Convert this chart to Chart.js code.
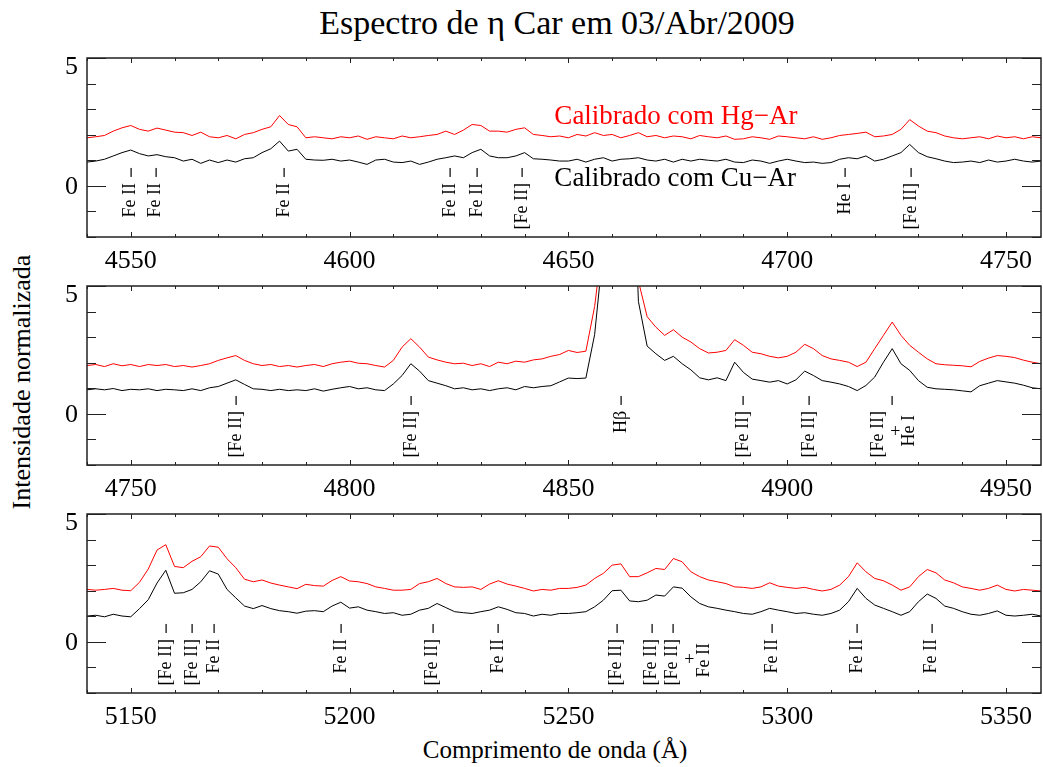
<!DOCTYPE html>
<html>
<head>
<meta charset="utf-8">
<title>Espectro de eta Car</title>
<script src="https://cdn.jsdelivr.net/npm/chart.js@4.4.0/dist/chart.umd.min.js"></script>
<style>
  body { margin: 0; background: #fff; width: 1043px; height: 767px; position: relative; overflow: hidden; font-family: "Liberation Serif", "Times New Roman", serif; }
  canvas { position: absolute; left: 0; }
  .txt { position: absolute; white-space: nowrap; color: #000; line-height: 1; }
</style>
</head>
<body>
<div class="txt" style="left:557px; top:23px; font-size:34px; transform:translate(-50%,-50%);">Espectro de η Car em 03/Abr/2009</div>
<div class="txt" style="left:22px; top:382px; font-size:26px; transform:translate(-50%,-50%) rotate(-90deg);">Intensidade normalizada</div>
<div class="txt" style="left:555px; top:749px; font-size:25px; transform:translate(-50%,-50%);">Comprimento de onda (Å)</div>
<canvas id="p1" width="1043" height="244" style="top:38px"></canvas>
<canvas id="p2" width="1043" height="244" style="top:266px"></canvas>
<canvas id="p3" width="1043" height="244" style="top:494px"></canvas>
<script>
'use strict';

const step = 2;

// panel 1: 4540 - 4758 A
const start1 = 4540, end1 = 4758;
const hgAr1 = [1.88, 1.92, 1.97, 2.14, 2.27, 2.36, 2.21, 2.14, 2.26, 2.18,
    2.10, 2.08, 1.97, 2.10, 1.92, 1.88, 1.97, 1.84, 2.01, 2.08,
    2.21, 2.31, 2.75, 2.40, 2.31, 1.88, 1.92, 1.88, 1.84, 1.92,
    1.88, 1.95, 1.82, 1.92, 1.88, 1.84, 1.95, 1.88, 1.92, 1.97,
    2.01, 2.14, 2.01, 2.18, 2.40, 2.36, 2.14, 2.14, 2.10, 2.21,
    2.27, 2.01, 1.97, 1.92, 1.95, 1.88, 2.01, 1.95, 2.08, 1.97,
    2.01, 1.88, 1.97, 2.08, 1.92, 1.97, 1.88, 1.95, 1.92, 1.84,
    1.97, 1.92, 1.88, 1.95, 1.82, 1.84, 1.92, 1.88, 1.82, 1.95,
    1.92, 1.88, 1.84, 1.92, 1.82, 1.88, 1.97, 2.01, 2.05, 2.10,
    1.92, 1.95, 2.01, 2.21, 2.59, 2.34, 2.14, 2.08, 1.95, 1.88,
    1.84, 1.88, 1.92, 1.84, 1.95, 1.88, 1.92, 1.84, 1.92, 1.88];
const cuAr1 = [0.93, 0.97, 1.04, 1.17, 1.30, 1.40, 1.26, 1.17, 1.22, 1.14,
    1.10, 0.97, 1.04, 0.88, 1.01, 0.91, 1.01, 0.93, 1.06, 1.10,
    1.30, 1.45, 1.75, 1.36, 1.43, 1.04, 1.01, 1.00, 1.04, 0.97,
    1.01, 0.93, 0.84, 1.01, 1.04, 0.93, 0.91, 0.97, 0.84, 0.93,
    1.04, 1.10, 1.17, 1.10, 1.30, 1.43, 1.17, 1.10, 1.10, 1.17,
    1.30, 1.06, 1.04, 1.01, 0.97, 0.97, 1.04, 0.93, 1.04, 1.10,
    0.97, 1.04, 1.06, 1.10, 1.01, 0.97, 1.04, 0.93, 1.04, 0.97,
    1.04, 1.00, 0.97, 1.04, 0.93, 0.91, 1.01, 0.97, 0.88, 0.97,
    1.04, 0.97, 0.91, 0.93, 0.88, 0.91, 1.04, 1.10, 1.06, 1.17,
    0.97, 1.04, 1.17, 1.30, 1.62, 1.30, 1.14, 1.06, 0.97, 0.91,
    0.93, 0.97, 0.91, 1.01, 0.93, 0.97, 1.04, 0.97, 0.93, 0.97];
const lines1 = [4550, 4555.7, 4585, 4623, 4629.1, 4639.4, 4713.3, 4728.4];
const names1 = ['Fe II', 'Fe II', 'Fe II', 'Fe II', 'Fe II', '[Fe II]', 'He I', '[Fe II]'];

// panel 2: 4740 - 4958 A (H beta goes off scale)
const start2 = 4740, end2 = 4958;
const hgAr2 = [1.89, 1.93, 1.85, 1.96, 1.88, 1.93, 1.85, 1.93, 1.89, 1.93,
    1.85, 1.89, 1.83, 1.89, 1.96, 2.09, 2.19, 2.28, 2.09, 1.96,
    1.89, 1.93, 1.85, 1.89, 1.83, 1.89, 1.93, 1.85, 1.96, 2.02,
    2.06, 1.98, 1.96, 1.89, 1.83, 2.09, 2.61, 2.94, 2.61, 2.22,
    2.11, 2.02, 1.96, 1.98, 1.89, 1.96, 1.85, 2.02, 1.96, 2.06,
    2.02, 2.11, 2.15, 2.25, 2.32, 2.48, 2.40, 2.45, 4.2, 7.0,
    15.0, 20.0, 15.0, 5.2, 3.8, 3.39, 3.07, 3.29, 3.00, 2.81,
    2.55, 2.38, 2.41, 2.48, 2.90, 2.68, 2.41, 2.35, 2.25, 2.19,
    2.25, 2.41, 2.72, 2.55, 2.28, 2.15, 2.09, 2.02, 1.85, 2.02,
    2.55, 3.07, 3.59, 3.07, 2.68, 2.41, 2.15, 1.96, 1.92, 1.90,
    1.88, 1.84, 2.05, 2.18, 2.28, 2.25, 2.20, 2.10, 2.02, 1.96];
const cuAr2 = [0.94, 0.98, 0.94, 0.99, 0.91, 0.96, 0.94, 0.98, 0.91, 0.96,
    0.94, 0.91, 0.98, 0.91, 1.02, 1.07, 1.20, 1.33, 1.15, 0.98,
    0.96, 0.91, 0.96, 0.91, 0.94, 0.91, 0.98, 0.89, 0.96, 1.02,
    1.07, 0.98, 1.02, 0.94, 0.91, 1.17, 1.50, 1.96, 1.67, 1.30,
    1.20, 1.10, 0.98, 1.02, 0.94, 0.98, 0.91, 0.98, 1.02, 0.94,
    1.07, 1.02, 1.07, 1.10, 1.25, 1.40, 1.38, 1.40, 3.1, 6.5,
    14.0, 19.0, 14.0, 4.4, 2.65, 2.35, 2.09, 2.25, 1.96, 1.72,
    1.41, 1.33, 1.41, 1.30, 2.02, 1.62, 1.36, 1.30, 1.24, 1.30,
    1.17, 1.33, 1.67, 1.50, 1.30, 1.24, 1.17, 1.07, 0.91, 1.11,
    1.44, 2.02, 2.55, 1.96, 1.70, 1.30, 1.04, 0.98, 0.96, 0.94,
    0.90, 0.86, 1.10, 1.20, 1.30, 1.25, 1.20, 1.12, 1.02, 0.98];
const lines2 = [4774, 4814, 4862, 4890, 4905, 4924];
const names2 = ['[Fe II]', '[Fe II]', 'Hβ', '[Fe II]', '[Fe II]', '[Fe II]+He I'];

// panel 3: 5140 - 5358 A
const start3 = 5140, end3 = 5358;
const hgAr3 = [2.05, 2.02, 2.05, 2.09, 2.02, 2.00, 2.33, 2.85, 3.59, 3.80,
    2.95, 2.90, 3.15, 3.33, 3.75, 3.70, 3.25, 2.90, 2.45, 2.35,
    2.42, 2.30, 2.22, 2.15, 2.08, 2.25, 2.20, 2.18, 2.40, 2.55,
    2.38, 2.35, 2.28, 2.15, 2.09, 2.02, 2.02, 2.05, 2.28, 2.35,
    2.48, 2.28, 2.15, 2.13, 2.15, 2.05, 2.26, 2.39, 2.26, 2.18,
    2.09, 1.99, 2.05, 2.02, 2.09, 2.09, 2.13, 2.22, 2.48, 2.68,
    3.00, 3.05, 2.55, 2.55, 2.70, 2.87, 2.83, 3.26, 3.13, 2.74,
    2.55, 2.42, 2.35, 2.28, 2.15, 2.13, 2.09, 2.15, 2.31, 2.18,
    2.13, 2.09, 2.13, 2.05, 1.99, 2.05, 2.22, 2.55, 3.09, 2.74,
    2.48, 2.39, 2.22, 2.02, 2.15, 2.55, 2.83, 2.70, 2.42, 2.31,
    2.15, 2.09, 2.02, 2.09, 2.22, 2.05, 1.99, 2.05, 2.02, 1.99];
const cuAr3 = [1.01, 1.04, 0.98, 1.08, 1.01, 0.98, 1.30, 1.65, 2.30, 2.80,
    1.90, 1.92, 2.05, 2.35, 2.78, 2.65, 2.05, 1.72, 1.40, 1.30,
    1.42, 1.30, 1.22, 1.18, 1.12, 1.20, 1.22, 1.18, 1.40, 1.55,
    1.32, 1.37, 1.24, 1.18, 1.11, 1.14, 1.04, 1.08, 1.24, 1.31,
    1.50, 1.34, 1.18, 1.14, 1.11, 1.18, 1.24, 1.37, 1.27, 1.14,
    1.11, 1.01, 1.08, 1.04, 1.11, 1.11, 1.14, 1.18, 1.37, 1.63,
    2.00, 2.02, 1.60, 1.57, 1.63, 1.83, 1.79, 2.15, 2.10, 1.76,
    1.50, 1.37, 1.31, 1.24, 1.18, 1.11, 1.08, 1.18, 1.31, 1.24,
    1.18, 1.11, 1.14, 1.08, 1.04, 1.11, 1.24, 1.57, 2.09, 1.70,
    1.44, 1.31, 1.18, 1.04, 1.18, 1.57, 1.87, 1.70, 1.40, 1.31,
    1.18, 1.08, 1.04, 1.11, 1.21, 1.04, 1.01, 1.04, 1.08, 1.01];
const lines3 = [5158, 5164, 5169, 5198, 5219, 5234, 5261, 5269, 5274, 5296.5, 5316, 5333];
const names3 = ['[Fe II]', '[Fe II]', 'Fe II', 'Fe II', '[Fe II]', 'Fe II', '[Fe II]', '[Fe II]',
    '[Fe II]+Fe II', 'Fe II', 'Fe II', 'Fe II'];

const yTicks = [0, 5];
const fontFamily = '"Liberation Serif", "Times New Roman", serif';

const toPoints = function(start, values) {
    return values.map((v, i) => ({ x: start + i * step, y: v }));
};

// draws a rotated text column, its end (top) at y
const vText = function(ctx, text, x, y) {
    ctx.save();
    ctx.translate(x, y);
    ctx.rotate(-Math.PI / 2);
    ctx.textAlign = 'right';
    ctx.textBaseline = 'middle';
    ctx.fillText(text, 0, 0);
    ctx.restore();
};

// IDL-like box with inward ticks, y labels and line identifications
const boxPlugin = {
    id: 'idlBox',
    afterDraw(chart, args, opts) {
        const ctx = chart.ctx;
        const a = chart.chartArea;
        const xs = chart.scales.x;
        const ys = chart.scales.y;
        ctx.save();
        ctx.strokeStyle = '#222';
        ctx.lineWidth = 1;
        ctx.beginPath();
        for (let w = Math.ceil(xs.min / 10) * 10; w <= xs.max; w += 10) {
            const px = Math.round(xs.getPixelForValue(w)) + 0.5;
            const len = w % 50 === 0 ? 5 : 3;
            ctx.moveTo(px, a.bottom); ctx.lineTo(px, a.bottom - len);
            ctx.moveTo(px, a.top); ctx.lineTo(px, a.top + len);
        }
        for (let v = ys.min; v <= ys.max; v++) {
            const py = Math.round(ys.getPixelForValue(v)) + 0.5;
            const len = v % 5 === 0 ? 19 : 9;
            ctx.moveTo(a.left, py); ctx.lineTo(a.left + len, py);
            ctx.moveTo(a.right, py); ctx.lineTo(a.right - len, py);
        }
        ctx.stroke();
        ctx.lineWidth = 1.5;
        ctx.strokeRect(a.left, a.top, a.right - a.left, a.bottom - a.top);

        // y labels
        ctx.fillStyle = '#000';
        ctx.font = '26px ' + fontFamily;
        ctx.textAlign = 'right';
        ctx.textBaseline = 'middle';
        for (const v of yTicks) {
            let py = ys.getPixelForValue(v);
            if (v === ys.max) py += 8;
            ctx.fillText(String(v), a.left - 9, py + 1);
        }

        // line ids
        ctx.font = '18px ' + fontFamily;
        const top = ys.getPixelForValue(0.7);
        opts.waves.forEach((w, i) => {
            const px = xs.getPixelForValue(w);
            ctx.fillRect(Math.round(px) - 0.5, top, 1.2, 9);
            const parts = opts.names[i].split('+');
            if (parts.length === 1) {
                vText(ctx, parts[0], px, top + 15);
            } else {
                const d = opts.comboDx;
                vText(ctx, parts[0], px + d[0], top + 15);
                ctx.textAlign = 'center';
                ctx.textBaseline = 'middle';
                ctx.fillText('+', px + d[1], top + 36);
                vText(ctx, parts[1].trim(), px + d[2], top + 19);
            }
        });

        // series notes
        for (const n of opts.notes) {
            ctx.font = '27px ' + fontFamily;
            ctx.fillStyle = n.color;
            ctx.textAlign = 'left';
            ctx.textBaseline = 'middle';
            ctx.fillText(n.text, xs.getPixelForValue(n.x), ys.getPixelForValue(n.y));
        }
        ctx.restore();
    }
};

const makePanel = function(id, start, end, hg, cu, waves, names, comboDx, notes) {
    const majors = [];
    for (let w = Math.ceil(start / 50) * 50; w <= end; w += 50) majors.push({ value: w });
    return new Chart(document.getElementById(id), {
        type: 'line',
        data: {
            datasets: [{
                label: 'Calibrado com Hg-Ar',
                data: toPoints(start, hg),
                borderColor: '#ff0000',
                borderWidth: 1,
                pointRadius: 0,
                fill: false
            }, {
                label: 'Calibrado com Cu-Ar',
                data: toPoints(start, cu),
                borderColor: '#000000',
                borderWidth: 1,
                pointRadius: 0,
                fill: false
            }]
        },
        options: {
            responsive: false,
            animation: false,
            events: [],
            layout: { padding: { top: 20, right: 2, left: 0, bottom: 0 } },
            plugins: {
                legend: { display: false },
                tooltip: { enabled: false },
                idlBox: { waves: waves, names: names, comboDx: comboDx, notes: notes }
            },
            scales: {
                x: {
                    type: 'linear',
                    min: start,
                    max: end,
                    afterBuildTicks: (s) => { s.ticks = majors; },
                    afterFit: (s) => { s.height = 45; },
                    grid: { display: false, drawTicks: false },
                    border: { display: false },
                    ticks: {
                        autoSkip: false,
                        maxRotation: 0,
                        padding: 9,
                        color: '#000',
                        font: { family: fontFamily, size: 26 },
                        callback: (v) => String(v)
                    }
                },
                y: {
                    min: -2,
                    max: 5,
                    afterFit: (s) => { s.width = 87; },
                    grid: { display: false, drawTicks: false },
                    border: { display: false },
                    ticks: { display: false }
                }
            }
        },
        plugins: [boxPlugin]
    });
};

document.addEventListener('DOMContentLoaded', function() {
    makePanel('p1', start1, end1, hgAr1, cuAr1, lines1, names1, null, [
        { text: 'Calibrado com Hg−Ar', x: 4646.8, y: 2.68, color: '#ff0000' },
        { text: 'Calibrado com Cu−Ar', x: 4646.8, y: 0.27, color: '#000000' }
    ]);
    makePanel('p2', start2, end2, hgAr2, cuAr2, lines2, names2, [-14, 3, 17], []);
    makePanel('p3', start3, end3, hgAr3, cuAr3, lines3, names3, [-1, 16, 31], []);
});
</script>
</body>
</html>
